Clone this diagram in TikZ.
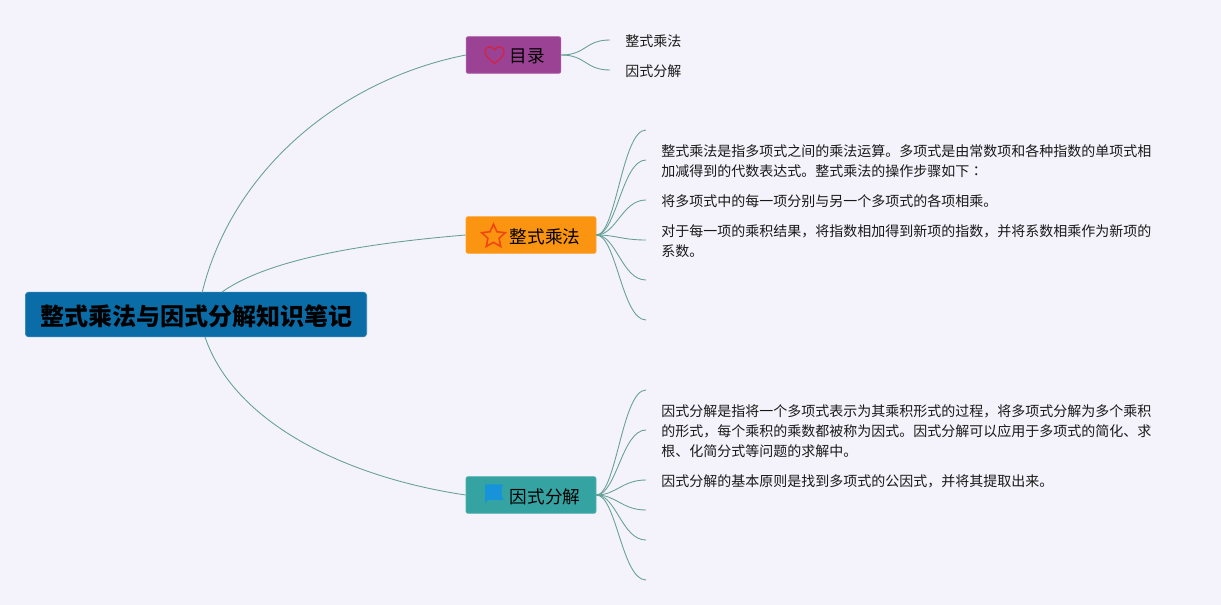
\documentclass[tikz,border=0pt]{standalone}
\usepackage{fontspec}
\setmainfont{Noto Sans CJK SC}
\newfontfamily\tcfont{Noto Sans CJK TC}
\usetikzlibrary{shapes.geometric}
\definecolor{bgc}{HTML}{F4F3FB}
\definecolor{linec}{HTML}{669F97}
\definecolor{rootc}{HTML}{0A6DA8}
\definecolor{purplec}{HTML}{9C4295}
\definecolor{orangec}{HTML}{FB9410}
\definecolor{tealc}{HTML}{36A3A3}
\definecolor{heartc}{HTML}{C8284A}
\definecolor{starc}{HTML}{F0460F}
\definecolor{flagc}{HTML}{1793D9}
\tikzset{
  x=0.75pt,y=-0.75pt,
  rootbox/.style={fill=rootc,draw=rootc!85!white,line width=0.5pt,rounded corners=2.5pt,minimum width=256pt,minimum height=33.5pt,inner sep=0pt},
  roottext/.style={inner sep=0pt,font=\fontsize{18pt}{22pt}\selectfont\bfseries,text=black},
  topicbox/.style={draw=#1!85!white,fill=#1,line width=0.5pt,rounded corners=1.5pt,minimum height=27.5pt,inner sep=0pt},
  topictext/.style={inner sep=0pt,font=\fontsize{13.2pt}{16pt}\selectfont,text=black},
  leaftext/.style={anchor=west,inner sep=0pt,align=left,font=\fontsize{10.5pt}{15pt}\selectfont,text=black!90},
  conn/.style={draw=linec,line width=0.65pt},
}
\newcommand{\leafto}[2]{\draw[conn] (#1) .. controls +(20,0) and +(-24,0) .. (#2);}
\begin{document}
\begin{tikzpicture}
\useasboundingbox[fill=bgc] (0,0) rectangle (1221,605);
% main nodes
\node[rootbox] (root) at (196,314.5) {};
\node[roottext] (roott) at (196.5,316) {整式乘法与因式分解知识笔记};
\node[topicbox=purplec,minimum width=71pt] (mulu) at (513.5,55) {};
\node[topicbox=orangec,minimum width=97.5pt] (zs) at (531,235) {};
\node[topicbox=tealc,minimum width=97.5pt] (ys) at (531,495) {};
\node[topictext] (mulut) at (527.5,56.5) {目录};
\node[topictext] (zst) at (545,236.5) {整式乘法};
\node[topictext] (yst) at (545,496.5) {因式分解};
% icons
\draw[draw=heartc,line width=1.1pt,line join=round]
  (494.5,63.5) .. controls (488,58) and (485,55.5) .. (485,51.5)
  .. controls (485,46) and (492,45) .. (494.5,50)
  .. controls (497,45) and (504,46) .. (504,51.5)
  .. controls (504,55.5) and (501,58) .. (494.5,63.5) -- cycle;
\node[star,star points=5,star point ratio=2.1,draw=starc,line width=1.2pt,minimum size=18.5pt,inner sep=0pt] (starico) at (493.5,236.5) {};
\fill[flagc] (485,484.5) -- (503,484.5) .. controls (501,490) and (501,494) .. (503.5,500) -- (488,500) -- (485,503.5) -- cycle;
% top-level connectors
\coordinate (r1) at (202,293);
\coordinate (r2) at (222,292);
\coordinate (r3) at (205,337);
\draw[conn] (r1) .. controls (232,170) and (340,80) .. (mulu.west);
\draw[conn] (r2) .. controls (270,258) and (370,243) .. (zs.west);
\draw[conn] (r3) .. controls (235,425) and (350,478) .. (ys.west);
% leaves of mulu
\coordinate (m1) at (610,40);
\coordinate (m2) at (610,70);
\draw[conn] (mulu.east) .. controls +(25,0) and +(-25,0) .. (m1);
\draw[conn] (mulu.east) .. controls +(25,0) and +(-25,0) .. (m2);
\node[leaftext] (mt1) at (625,41.5) {整式乘法};
\node[leaftext] (mt2) at (625,71.5) {因式分解};
% leaves of zs
\foreach \n/\y in {a/130,b/160,c/200,d/240,e/280,f/320}{
  \coordinate (z\n) at (646,\y);
  \leafto{zs.east}{z\n}
}
% leaves of ys
\foreach \n/\y in {a/390,b/430,c/480,d/510,e/540,f/580}{
  \coordinate (y\n) at (646,\y);
  \leafto{ys.east}{y\n}
}
% leaf texts
\node[leaftext] (t1) at (661,161.5) {整式乘法是指多项式之间的乘法运算。多项式是由常数项和各种指数的单项式相\\加减得到的代数表达式。整式乘法的操作步骤如下{\tcfont ：}};
\node[leaftext] (t2) at (661,201.5) {将多项式中的每一项分别与另一个多项式的各项相乘。};
\node[leaftext] (t3) at (661,241.5) {对于每一项的乘积结果，将指数相加得到新项的指数，并将系数相乘作为新项的\\系数。};
\node[leaftext] (t4) at (661,431.5) {因式分解是指将一个多项式表示为其乘积形式的过程，将多项式分解为多个乘积\\的形式，每个乘积的乘数都被称为因式。因式分解可以应用于多项式的简化、求\\根、化简分式等问题的求解中。};
\node[leaftext] (t5) at (661,481.5) {因式分解的基本原则是找到多项式的公因式，并将其提取出来。};
\end{tikzpicture}
\end{document}
